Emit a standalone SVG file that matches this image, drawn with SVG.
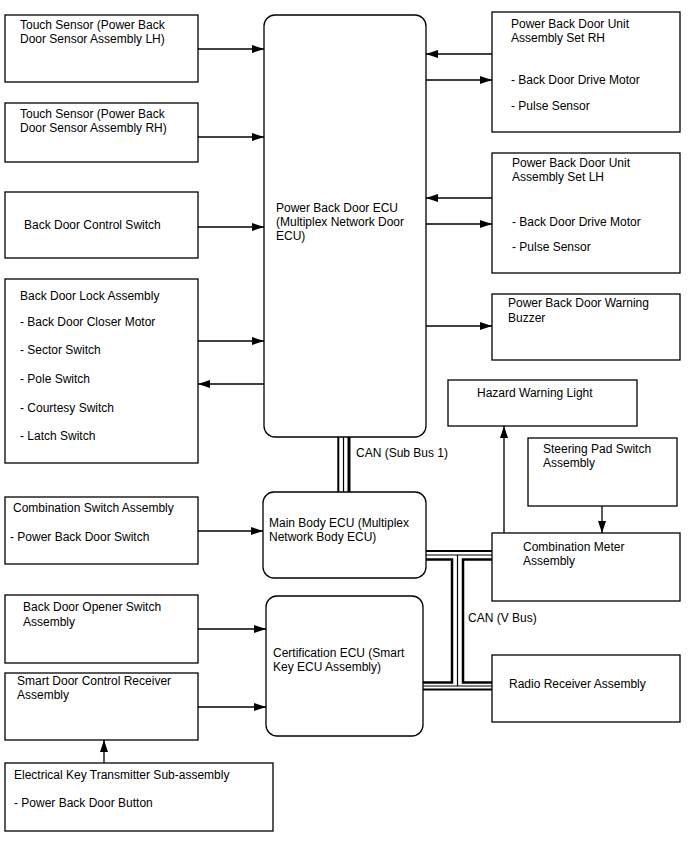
<svg xmlns="http://www.w3.org/2000/svg" width="688" height="852" viewBox="0 0 688 852">
<style>
.box{fill:#fff;stroke:#000;stroke-width:1.3}
text{font-family:"Liberation Sans",Arial,sans-serif;font-size:12px;fill:#000}
.ln{stroke:#000;stroke-width:1.3;fill:none}
.bus{stroke:#000;fill:none}
</style>
<defs>
<marker id="ah" markerUnits="userSpaceOnUse" markerWidth="13" markerHeight="9" refX="12" refY="4" orient="auto">
<path d="M0,0 L12,4 L0,8 z" fill="#000"/>
</marker>
</defs>
<rect width="688" height="852" fill="#fff"/>

<g id="connectors">
<line class="ln" x1="198" y1="49" x2="264" y2="49" marker-end="url(#ah)"/>
<line class="ln" x1="198" y1="137" x2="264" y2="137" marker-end="url(#ah)"/>
<line class="ln" x1="198" y1="227" x2="264" y2="227" marker-end="url(#ah)"/>
<line class="ln" x1="198" y1="341" x2="264" y2="341" marker-end="url(#ah)"/>
<line class="ln" x1="264" y1="384" x2="198" y2="384" marker-end="url(#ah)"/>
<line class="ln" x1="492" y1="54" x2="426" y2="54" marker-end="url(#ah)"/>
<line class="ln" x1="426" y1="80" x2="492" y2="80" marker-end="url(#ah)"/>
<line class="ln" x1="492" y1="198" x2="426" y2="198" marker-end="url(#ah)"/>
<line class="ln" x1="426" y1="224" x2="492" y2="224" marker-end="url(#ah)"/>
<line class="ln" x1="426" y1="326" x2="492" y2="326" marker-end="url(#ah)"/>
<line class="ln" x1="198" y1="531" x2="263" y2="531" marker-end="url(#ah)"/>
<line class="ln" x1="198" y1="629" x2="266" y2="629" marker-end="url(#ah)"/>
<line class="ln" x1="198" y1="707" x2="266" y2="707" marker-end="url(#ah)"/>
<line class="ln" x1="104" y1="763" x2="104" y2="740" marker-end="url(#ah)"/>
<line class="ln" x1="504" y1="533" x2="504" y2="426" marker-end="url(#ah)"/>
<line class="ln" x1="602" y1="506" x2="602" y2="533" marker-end="url(#ah)"/>
<!-- CAN Sub Bus 1 -->
<line class="bus" x1="338.3" y1="437" x2="338.3" y2="492" stroke-width="2"/>
<line class="bus" x1="343.5" y1="437" x2="343.5" y2="492" stroke-width="1.2"/>
<line class="bus" x1="349" y1="437" x2="349" y2="492" stroke-width="3"/>
<!-- CAN V Bus -->
<line class="bus" x1="426" y1="551" x2="492" y2="551" stroke-width="2"/>
<line class="bus" x1="426" y1="555" x2="492" y2="555" stroke-width="1.2"/>
<path class="bus" d="M426,559.5 H452 V682.5 H423" stroke-width="2.5"/>
<path class="bus" d="M492,559.5 H463 V682.5 H492" stroke-width="2.5"/>
<line class="bus" x1="457.5" y1="555" x2="457.5" y2="686" stroke-width="1.2"/>
<line class="bus" x1="423" y1="686" x2="492" y2="686" stroke-width="1.2"/>
<line class="bus" x1="423" y1="689.5" x2="492" y2="689.5" stroke-width="2"/>
</g>

<g id="touch-lh"><rect class="box" x="5" y="15" width="193" height="67"/><text x="20" y="29">Touch Sensor (Power Back</text><text x="20" y="43">Door Sensor Assembly LH)</text></g>
<g id="touch-rh"><rect class="box" x="5" y="103" width="193" height="59"/><text x="20" y="118">Touch Sensor (Power Back</text><text x="20" y="132">Door Sensor Assembly RH)</text></g>
<g id="control-switch"><rect class="box" x="5" y="192" width="193" height="66"/><text x="24" y="229">Back Door Control Switch</text></g>
<g id="lock-assembly"><rect class="box" x="5" y="279" width="193" height="184"/>
<text x="20" y="300">Back Door Lock Assembly</text>
<text x="20" y="326">- Back Door Closer Motor</text>
<text x="20" y="354">- Sector Switch</text>
<text x="20" y="383">- Pole Switch</text>
<text x="20" y="412">- Courtesy Switch</text>
<text x="20" y="440">- Latch Switch</text></g>
<g id="pbd-ecu"><rect class="box" x="264" y="15" width="162" height="422" rx="11"/><text x="276" y="212">Power Back Door ECU</text><text x="276" y="226">(Multiplex Network Door</text><text x="276" y="240">ECU)</text></g>
<g id="unit-rh"><rect class="box" x="492" y="12" width="188" height="120"/><text x="511" y="28">Power Back Door Unit</text><text x="511" y="42">Assembly Set RH</text><text x="511" y="84">- Back Door Drive Motor</text><text x="511" y="110">- Pulse Sensor</text></g>
<g id="unit-lh"><rect class="box" x="492" y="153" width="188" height="120"/><text x="512" y="167">Power Back Door Unit</text><text x="512" y="181">Assembly Set LH</text><text x="512" y="226">- Back Door Drive Motor</text><text x="512" y="251">- Pulse Sensor</text></g>
<g id="buzzer"><rect class="box" x="492" y="294" width="188" height="66"/><text x="508" y="307">Power Back Door Warning</text><text x="508" y="322">Buzzer</text></g>
<g id="hazard"><rect class="box" x="448" y="380" width="189" height="46"/><text x="477" y="397">Hazard Warning Light</text></g>
<g id="steering"><rect class="box" x="528" y="438" width="149" height="68"/><text x="543" y="453">Steering Pad Switch</text><text x="543" y="467">Assembly</text></g>
<g id="combo-meter"><rect class="box" x="492" y="533" width="188" height="68"/><text x="523" y="551">Combination Meter</text><text x="523" y="565">Assembly</text></g>
<g id="radio"><rect class="box" x="492" y="655" width="188" height="67"/><text x="509" y="688">Radio Receiver Assembly</text></g>
<g id="main-body-ecu"><rect class="box" x="263" y="492" width="163" height="86" rx="11"/><text x="269" y="527">Main Body ECU (Multiplex</text><text x="269" y="541">Network Body ECU)</text></g>
<g id="cert-ecu"><rect class="box" x="266" y="596" width="157" height="140" rx="11"/><text x="273" y="657">Certification ECU (Smart</text><text x="273" y="671">Key ECU Assembly)</text></g>
<g id="combo-switch"><rect class="box" x="5" y="497" width="193" height="67"/><text x="13" y="512">Combination Switch Assembly</text><text x="10" y="541">- Power Back Door Switch</text></g>
<g id="opener-switch"><rect class="box" x="5" y="595" width="193" height="68"/><text x="23" y="611">Back Door Opener Switch</text><text x="23" y="626">Assembly</text></g>
<g id="smart-receiver"><rect class="box" x="5" y="673" width="193" height="67"/><text x="17" y="685">Smart Door Control Receiver</text><text x="17" y="699">Assembly</text></g>
<g id="key-transmitter"><rect class="box" x="5" y="763" width="268" height="68"/><text x="14" y="779">Electrical Key Transmitter Sub-assembly</text><text x="14" y="807">- Power Back Door Button</text></g>
<g id="labels"><text x="356" y="457">CAN (Sub Bus 1)</text><text x="468" y="622">CAN (V Bus)</text></g>
</svg>
